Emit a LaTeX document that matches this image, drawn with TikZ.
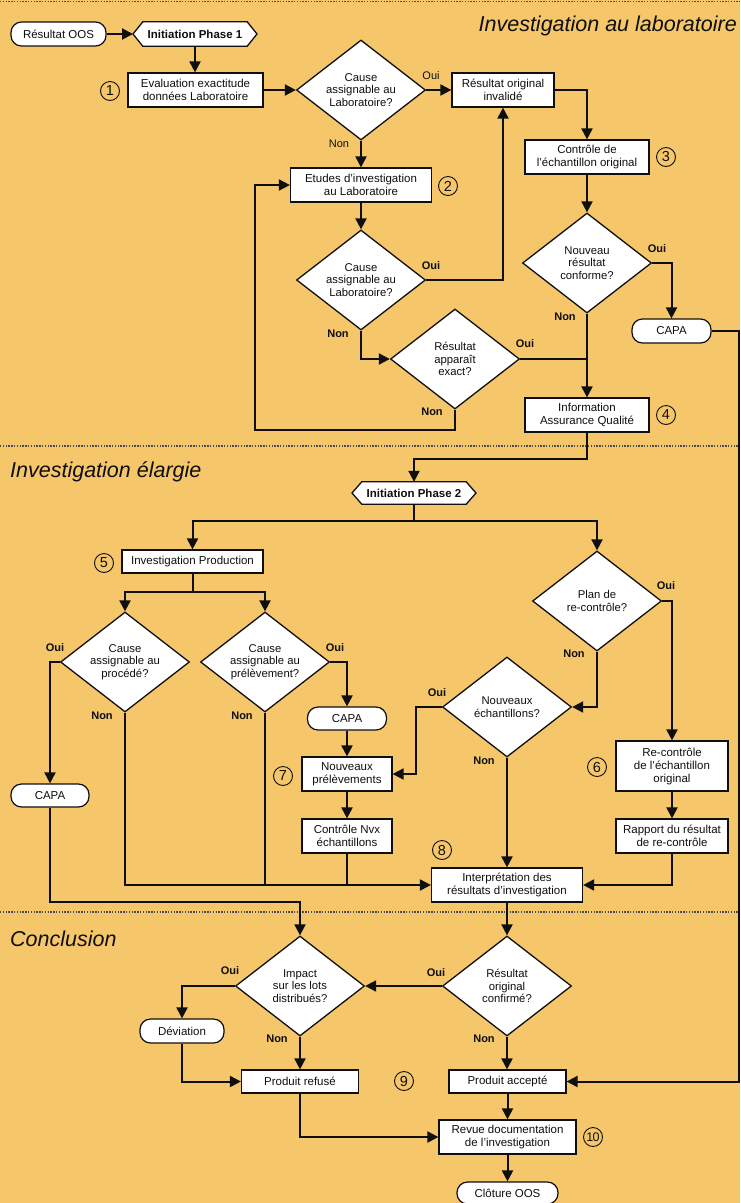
\documentclass[tikz,border=0pt]{standalone}
\usepackage{fontspec}
\setmainfont{Liberation Sans}
\usetikzlibrary{shapes.geometric,arrows.meta,backgrounds}
\definecolor{bgc}{RGB}{246,198,106}
\definecolor{ink}{RGB}{15,15,15}
\begin{document}
\begin{tikzpicture}[x=1pt,y=-1pt,
  every node/.style={text=ink},
  box/.style={draw=ink, line width=1.2pt, fill=white, align=center, inner sep=0pt, font=\fontsize{11.5}{13}\selectfont},
  pill/.style={box, rounded corners=10.5pt},
  dia/.style={diamond, draw=ink, line width=1.3pt, fill=white, align=center, inner sep=0pt, minimum width=129pt, minimum height=100pt, aspect=1.3, font=\fontsize{11.3}{12.6}\selectfont},
  hexlbl/.style={inner sep=0pt, align=center, font=\bfseries\fontsize{11.5}{13}\selectfont},
  hexshape/.style={fill=white, draw=ink, line width=1.3pt},
  arr/.style={line width=2pt, draw=ink, -{Triangle[length=11pt,width=11pt]}},
  ln/.style={line width=2pt, draw=ink},
  yn/.style={font=\fontsize{11}{13}\selectfont, inner sep=0pt},
  ynb/.style={font=\bfseries\fontsize{11}{13}\selectfont, inner sep=0pt},
  num/.style={circle, draw=ink, line width=0.9pt, minimum size=19pt, inner sep=0pt, font=\fontsize{14.5}{14.5}\selectfont},
  numt/.style={num, font=\fontsize{12.5}{12.5}\selectfont},
  ttl/.style={font=\itshape\fontsize{21.5}{24}\selectfont, inner sep=0pt},
  sepline/.style={draw=ink!75, line width=1.2pt, dash pattern=on 1.4pt off 1.4pt}
]
\useasboundingbox (0,0) rectangle (740,1203);
\begin{pgfonlayer}{background}
  \fill[bgc] (0,0) rectangle (740,1203);
  \draw[sepline] (0,1.5) -- (740,1.5);
  \draw[sepline] (0,446) -- (740,446);
  \draw[sepline] (0,912) -- (740,912);
\end{pgfonlayer}

% titles
\node[ttl, anchor=base east] (t1) at (737,31) {Investigation au laboratoire};
\node[ttl, anchor=base west] (t2) at (10,477) {Investigation élargie};
\node[ttl, anchor=base west] (t3) at (10,946) {Conclusion};

% ---------- top ----------
\node[pill, minimum width=95pt, minimum height=24pt] (oos) at (58.5,34) {Résultat OOS};
\node[hexlbl, minimum width=104pt, minimum height=24pt] (init1) at (195,34) {Initiation Phase 1};
\coordinate (init1L) at (133,34);
\coordinate (init1R) at (257,34);
\node[box, minimum width=135pt, minimum height=34pt] (eval) at (195.5,90) {Evaluation exactitude\\données Laboratoire};
\node[dia] (d1) at (361,90) {Cause\\assignable au\\Laboratoire?};
\node[box, minimum width=102pt, minimum height=34pt] (inval) at (503,90) {Résultat original\\invalidé};
\node[box, minimum width=141pt, minimum height=34pt] (etudes) at (361,185) {Etudes d’investigation\\au Laboratoire};
\node[box, minimum width=124pt, minimum height=34pt] (ctrl) at (587,157) {Contrôle de\\l’échantillon original};
\node[dia] (d2) at (361,280) {Cause\\assignable au\\Laboratoire?};
\node[dia] (d3) at (587,263) {Nouveau\\résultat\\conforme?};
\node[dia] (d4) at (455,359) {Résultat\\apparaît\\exact?};
\node[pill, minimum width=79pt, minimum height=24pt] (capa1) at (671.5,331) {CAPA};
\node[box, minimum width=124pt, minimum height=34pt] (info) at (587,415) {Information\\Assurance Qualité};

\node[num] (n1) at (110,91) {1};
\node[num] (n2) at (448,186) {2};
\node[num] (n3) at (666,157) {3};
\node[num] (n4) at (666,415) {4};

\node[yn] (l1o) at (431,76) {Oui};
\node[yn] (l1n) at (339,144) {Non};
\node[ynb] (l2o) at (431,266) {Oui};
\node[ynb] (l2n) at (338,334) {Non};
\node[ynb] (l3o) at (657,249) {Oui};
\node[ynb] (l3n) at (565,317) {Non};
\node[ynb] (l4o) at (525,344) {Oui};
\node[ynb] (l4n) at (432,412) {Non};

\coordinate (loopc) at (255,430);
\coordinate (rail) at (739,331);
\coordinate (y459) at (0,459);

\draw[arr] (oos.east) -- (init1L);
\draw[arr] (init1.south) -- (init1.south |- eval.north);
\draw[arr] (eval.east) -- (d1.west);
\draw[arr] (d1.east) -- (inval.west);
\draw[arr] (d1.south) -- (etudes.north);
\draw[arr] (inval.east) -| (ctrl.north);
\draw[arr] (ctrl.south) -- (d3.north);
\draw[arr] (d3.east) -| (capa1.north);
\draw[arr] (etudes.south) -- (d2.north);
\draw[arr] (d2.east) -| (inval.south);
\draw[arr] (d2.south) |- (d4.west);
\draw[ln] (d4.east) -- (d4.east -| d3.south);
\draw[arr] (d3.south) -- (info.north);
\draw[arr] (d4.south) |- (loopc) |- (etudes.west);

% ---------- middle ----------
\node[hexlbl, minimum width=104pt, minimum height=22pt] (init2) at (414,493) {Initiation Phase 2};
\coordinate (init2L) at (352,493);
\coordinate (init2R) at (476,493);
\node[box, minimum width=141pt, minimum height=23pt] (invprod) at (192.5,561.5) {Investigation Production};
\node[dia] (dp) at (125,662) {Cause\\assignable au\\procédé?};
\node[dia] (dpr) at (265,662) {Cause\\assignable au\\prélèvement?};
\node[pill, minimum width=79pt, minimum height=23pt] (capaM) at (347,718.5) {CAPA};
\node[box, minimum width=90pt, minimum height=34pt] (nprel) at (347,774) {Nouveaux\\prélèvements};
\node[box, minimum width=90pt, minimum height=34pt] (cnvx) at (347,836) {Contrôle Nvx\\échantillons};
\node[pill, minimum width=78pt, minimum height=23pt] (capaL) at (50,795.5) {CAPA};
\node[dia] (plan) at (597,601) {Plan de\\re-contrôle?};
\node[dia] (nech) at (507,707) {Nouveaux\\échantillons?};
\node[box, minimum width=112pt, minimum height=50pt] (recont) at (672,766) {Re-contrôle\\de l’échantillon\\original};
\node[box, minimum width=112pt, minimum height=34pt] (rapport) at (672,836) {Rapport du résultat\\de re-contrôle};
\node[box, minimum width=151pt, minimum height=34pt] (interp) at (507,885) {Interprétation des\\résultats d’investigation};

\node[num] (n5) at (104,563) {5};
\node[num] (n6) at (597,767) {6};
\node[num] (n7) at (283,776) {7};
\node[num] (n8) at (442,850) {8};

\node[ynb] (l5o) at (55,648) {Oui};
\node[ynb] (l5n) at (102,716) {Non};
\node[ynb] (l6o) at (335,648) {Oui};
\node[ynb] (l6n) at (242,716) {Non};
\node[ynb] (l7o) at (666,586) {Oui};
\node[ynb] (l7n) at (574,654) {Non};
\node[ynb] (l8o) at (437,693) {Oui};
\node[ynb] (l8n) at (484,761) {Non};

\coordinate (y521) at (0,521);
\coordinate (y592) at (0,592);
\coordinate (y885) at (0,885);
\coordinate (x416) at (416,0);
\coordinate (c902) at (300,902);

\draw[arr] (info.south) -- (info.south |- y459) -| (init2.north);
\draw[ln] (init2.south) -- (init2.south |- y521);
\draw[arr] (init2.south |- y521) -| (invprod.north);
\draw[arr] (init2.south |- y521) -| (plan.north);
\draw[ln] (invprod.south) -- (invprod.south |- y592);
\draw[arr] (invprod.south |- y592) -| (dp.north);
\draw[arr] (invprod.south |- y592) -| (dpr.north);
\draw[arr] (dp.west) -| (capaL.north);
\draw[arr] (dp.south) -- (dp.south |- y885) -- (interp.west);
\draw[ln] (dpr.south) -- (dpr.south |- y885);
\draw[arr] (dpr.east) -| (capaM.north);
\draw[arr] (capaM.south) -- (nprel.north);
\draw[arr] (nprel.south) -- (cnvx.north);
\draw[ln] (cnvx.south) -- (cnvx.south |- y885);
\draw[arr] (plan.east) -| (recont.north);
\draw[arr] (plan.south) |- (nech.east);
\draw[arr] (nech.west) -- (nech.west -| x416) |- (nprel.east);
\draw[arr] (nech.south) -- (nech.south |- interp.north);
\draw[arr] (recont.south) -- (rapport.north);
\draw[arr] (rapport.south) |- (interp.east);

% ---------- bottom ----------
\node[dia] (dconf) at (507,986) {Résultat\\original\\confirmé?};
\node[dia] (dimp) at (300,986) {Impact\\sur les lots\\distribués?};
\node[pill, minimum width=84pt, minimum height=24pt] (dev) at (182,1031) {Déviation};
\node[box, minimum width=117pt, minimum height=23pt] (refuse) at (300,1081.5) {Produit refusé};
\node[box, minimum width=117pt, minimum height=23pt] (accept) at (507.5,1081.5) {Produit accepté};
\node[box, minimum width=137pt, minimum height=34pt] (revue) at (507.5,1137) {Revue documentation\\de l’investigation};
\node[pill, minimum width=101pt, minimum height=22pt] (clot) at (507.5,1193) {Clôture OOS};

\node[num] (n9) at (404,1081) {9};
\node[numt] (n10) at (593,1137) {1\kern-0.6pt0};

\node[ynb] (l9o) at (436,973) {Oui};
\node[ynb] (l9n) at (484,1039) {Non};
\node[ynb] (l10o) at (230,971) {Oui};
\node[ynb] (l10n) at (277,1039) {Non};

\draw[arr] (interp.south) -- (interp.south |- dconf.north);
\draw[arr] (capaL.south) |- (c902) -- (dimp.north);
\draw[arr] (capa1.east) -- (rail) |- (accept.east);
\draw[arr] (dconf.west) -- (dimp.east);
\draw[arr] (dimp.west) -| (dev.north);
\draw[arr] (dev.south) |- (refuse.west);
\draw[arr] (dimp.south) -- (refuse.north);
\draw[arr] (dconf.south) -- (dconf.south |- accept.north);
\draw[arr] (accept.south) -- (revue.north);
\draw[arr] (refuse.south) |- (revue.west);
\draw[arr] (revue.south) -- (clot.north);

% hexagons behind their labels
\begin{pgfonlayer}{background}
  \path[hexshape] (init1L) -- (init1.north west) -- (init1.north east) -- (init1R) -- (init1.south east) -- (init1.south west) -- cycle;
  \path[hexshape] (init2L) -- (init2.north west) -- (init2.north east) -- (init2R) -- (init2.south east) -- (init2.south west) -- cycle;
\end{pgfonlayer}
\end{tikzpicture}
\end{document}
